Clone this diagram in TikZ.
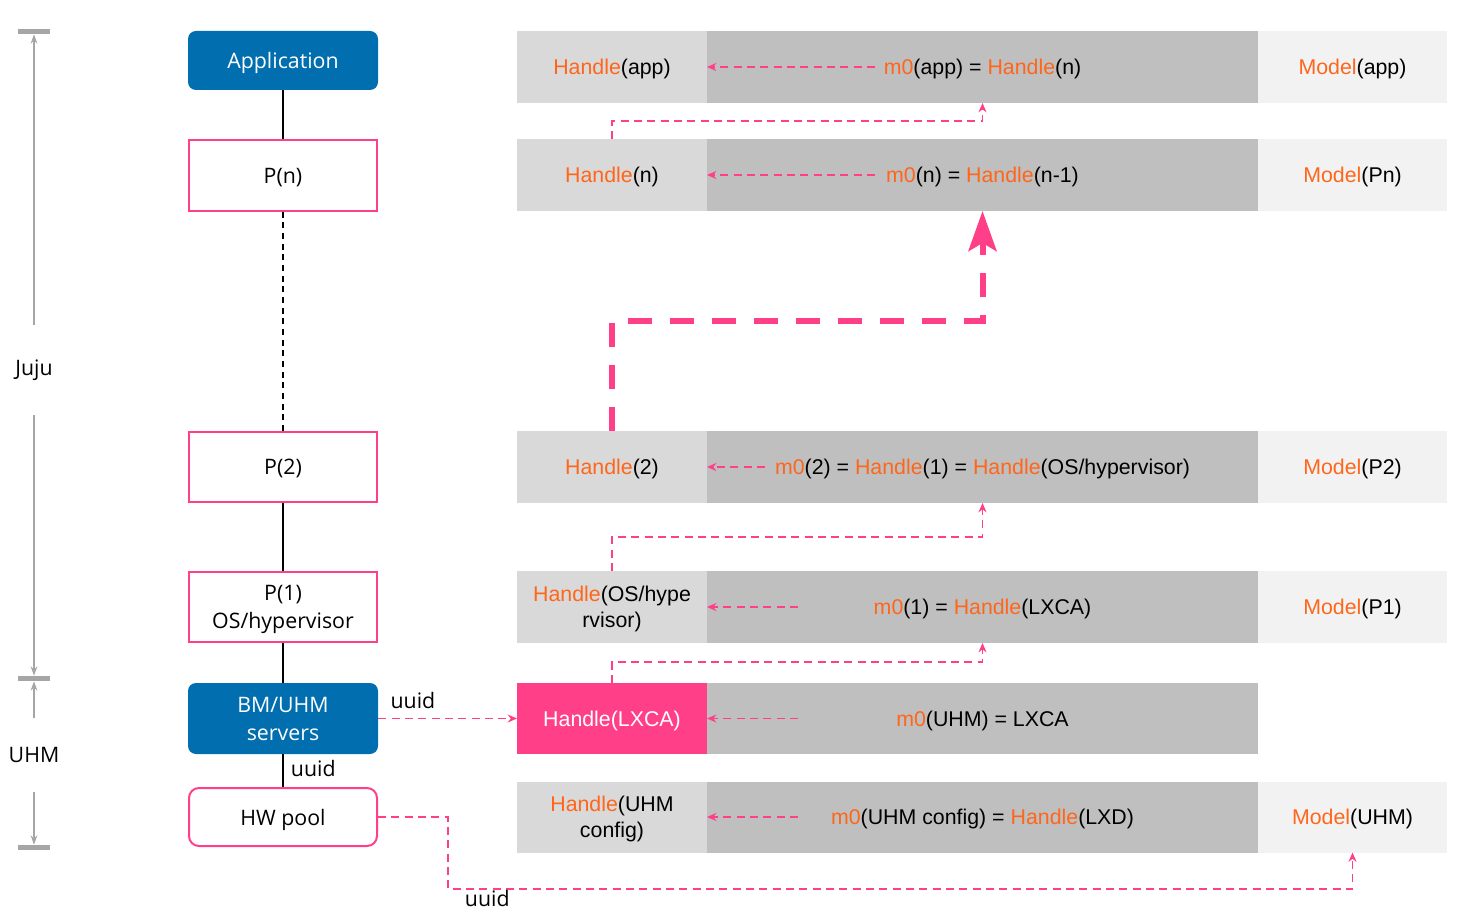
\documentclass[tikz,border=0pt]{standalone}
\usepackage{fontspec}
\setmainfont{Liberation Sans}
\newfontfamily\uifont{Open Sans}
\usepackage{xcolor}
\usetikzlibrary{positioning, arrows.meta}
\definecolor{uhmblue}{RGB}{0,110,175}
\definecolor{hpink}{RGB}{255,64,136}
\definecolor{horange}{RGB}{255,102,26}
\definecolor{cellA}{RGB}{217,217,217}
\definecolor{cellB}{RGB}{191,191,191}
\definecolor{cellC}{RGB}{242,242,242}
\definecolor{scalegray}{RGB}{166,166,166}
\newcommand{\og}[1]{\textcolor{horange}{#1}}

\begin{document}
\begin{tikzpicture}[x=0.75pt, y=-0.75pt,
    layer/.style={draw=hpink, line width=1.5pt, fill=white,
        minimum width=141pt, minimum height=53pt, inner sep=0pt, text depth=0pt,
        align=center, font=\uifont\fontsize{16}{21}\selectfont},
    bluebox/.style={fill=uhmblue, text=white, rounded corners=6pt,
        minimum width=142.5pt, inner sep=0pt, text depth=0pt,
        align=center, font=\uifont\fontsize{16}{21}\selectfont},
    cell/.style={inner sep=0pt, outer sep=0pt, minimum height=54pt, text depth=0pt,
        align=center, font=\fontsize{16}{19.5}\selectfont},
    hcell/.style={cell, fill=cellA, minimum width=142.5pt},
    mcell/.style={cell, fill=cellB, minimum width=413.25pt},
    rcell/.style={cell, fill=cellC, minimum width=141.75pt},
    link/.style={draw=hpink, line width=1.4pt, dash pattern=on 6pt off 4pt,
        -{Stealth[length=7pt, width=6pt]}},
    bigarrow/.style={draw=hpink, line width=4.5pt, dash pattern=on 18pt off 13.5pt,
        -{Stealth[length=30pt, width=21pt, inset=6pt]}},
    scaleline/.style={draw=scalegray, line width=1.4pt,
        -{Stealth[length=7pt, width=5pt]}},
    bar/.style={fill=scalegray, minimum width=24pt, minimum height=3.8pt, inner sep=0pt},
    lbl/.style={font=\uifont\fontsize{16}{19}\selectfont}
    ]
    \useasboundingbox (0,0) rectangle (1463,919);

    % left column
    \node[bluebox, minimum height=44.25pt] (app) at (283,60.5) {Application};
    \node[layer] (pn) at (283,175.5) {P(n)};
    \node[layer] (p2) at (283,467) {P(2)};
    \node[layer] (p1) at (283,607) {P(1)\\OS/hypervisor};
    \node[bluebox, minimum height=53.25pt] (bm) at (283,718.5) {BM/UHM\\servers};
    \node[layer, rounded corners=7.5pt, minimum height=43.5pt] (hw) at (283,817) {HW pool};

    \draw[line width=1.3pt] (app) -- (pn);
    \draw[line width=1.3pt, dash pattern=on 4.5pt off 3.5pt] (pn) -- (p2);
    \draw[line width=1.3pt] (p2) -- (p1);
    \draw[line width=1.3pt] (p1) -- (bm);
    \draw[line width=1.3pt] (bm) -- (hw) node[lbl, midway, right, xshift=2pt, yshift=1.5pt] {uuid};

    % scale
    \node[bar] (bartop) at (34,31.5) {};
    \node[bar] (barmid) at (34,678.5) {};
    \node[bar] (barbot) at (34,847.5) {};
    \node[lbl, minimum height=67.5pt] (juju) at (34,370) {Juju};
    \node[lbl, minimum height=54.75pt] (uhm) at (34,755) {UHM};
    \draw[scaleline] (juju.north) -- (bartop.south);
    \draw[scaleline] (juju.south) -- (barmid.north);
    \draw[scaleline] (uhm.north) -- (barmid.south);
    \draw[scaleline] (uhm.south) -- (barbot.north);

    % rows
    \node[hcell] (happ) at (612,67) {\og{Handle}(app)};
    \node[mcell, right=0pt of happ] (mapp) {\og{m0}(app) = \og{Handle}(n)};
    \node[rcell, right=0pt of mapp] (rapp) {\og{Model}(app)};

    \node[hcell] (hn) at (612,175) {\og{Handle}(n)};
    \node[mcell, right=0pt of hn] (mn) {\og{m0}(n) = \og{Handle}(n-1)};
    \node[rcell, right=0pt of mn] (rn) {\og{Model}(Pn)};

    \node[hcell] (h2) at (612,467) {\og{Handle}(2)};
    \node[mcell, right=0pt of h2] (m2) {\og{m0}(2) = \og{Handle}(1) = \og{Handle}(OS/hypervisor)};
    \node[rcell, right=0pt of m2] (r2) {\og{Model}(P2)};

    \node[hcell] (h1) at (612,607) {\og{Handle}(OS/hype\\rvisor)};
    \node[mcell, right=0pt of h1] (m1) {\og{m0}(1) = \og{Handle}(LXCA)};
    \node[rcell, right=0pt of m1] (r1) {\og{Model}(P1)};

    \node[hcell, fill=hpink, text=white, minimum height=53.25pt] (hl) at (612,718.5) {Handle(LXCA)};
    \node[mcell, minimum height=53.25pt, right=0pt of hl] (ml) {\og{m0}(UHM) = LXCA};

    \node[hcell, minimum height=53.25pt] (hu) at (612,817) {\og{Handle}(UHM\\config)};
    \node[mcell, minimum height=53.25pt, right=0pt of hu] (mu) {\og{m0}(UHM config) = \og{Handle}(LXD)};
    \node[rcell, minimum height=53.25pt, right=0pt of mu] (ru) {\og{Model}(UHM)};

    % inner arrows
    \draw[link] ([xshift=126pt]mapp.west) -- (happ.east);
    \draw[link] ([xshift=126pt]mn.west) -- (hn.east);
    \draw[link] ([xshift=43.5pt]m2.west) -- (h2.east);
    \draw[link] ([xshift=68.25pt]m1.west) -- (h1.east);
    \draw[link] ([xshift=68.25pt]ml.west) -- (hl.east);
    \draw[link] ([xshift=68.25pt]mu.west) -- (hu.east);

    % links between rows
    \draw[link] (hn.north) -- ++(0,-18) -| (mapp.south);
    \draw[bigarrow] (h2.north) -- ++(0,-110) -| (mn.south);
    \draw[link] (h1.north) -- ++(0,-34) -| (m2.south);
    \draw[link] (hl.north) -- ++(0,-21) -| (m1.south);

    \draw[link] (bm.east) -- (hl.west) node[lbl, pos=0.25, above, yshift=3pt] {uuid};
    \draw[link] (hw.east) -- ++(70,0) -- ++(0,72)
        node[lbl, anchor=north west, xshift=12pt, inner sep=0pt] {uuid} -| (ru.south);
\end{tikzpicture}
\end{document}
